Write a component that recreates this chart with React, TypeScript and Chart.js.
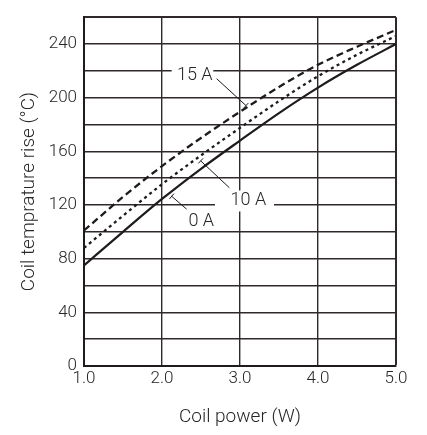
import React, { useEffect, useRef } from "react";
import { Chart, registerables } from "chart.js";

Chart.register(...registerables);

// ---- data ----
const powerW = [1.0, 1.5, 2.0, 2.5, 3.0, 3.5, 4.0, 4.5, 5.0];
const rise0A = [75, 100, 124.5, 147, 168, 188.5, 207.5, 224.5, 240];
const rise10A = [88, 112, 135.5, 157, 177.5, 197.5, 216, 232, 246];
const rise15A = [101, 126, 149, 170, 189.5, 208, 224.5, 238, 250.5];
const seriesNames = ["0 A", "10 A", "15 A"];
const xTitle = "Coil power (W)";
const yTitle = "Coil temprature rise (°C)";
const yLabelEvery = 40;

// call-out labels, in data units
const calloutText = ["15 A", "10 A", "0 A"];
const calloutAt = [
  [2.42, 216.7],
  [3.107, 123],
  [2.504, 107.9],
];
const calloutGap = [[2.124, 2.658], [2.679, 3.436], null];
const leaderFrom = [
  [2.7, 214.2],
  [2.863, 132.9],
  [2.316, 116.9],
];
const leaderTo = [
  [3.077, 194.1],
  [2.496, 152.9],
  [2.124, 126.5],
];

const INK = "#1f1b1c";
const GRID = "#2f292a";
const TEXT = "#262626";
const FAMILY = "Roboto, 'Liberation Sans', sans-serif";

const calloutPlugin = {
  id: "callouts",
  beforeDatasetsDraw(chart: any) {
    const { ctx, scales } = chart;
    const xs = scales.x;
    const ys = scales.y;
    ctx.save();
    ctx.fillStyle = "#ffffff";
    calloutGap.forEach((g, i) => {
      if (!g) return;
      const x0 = xs.getPixelForValue(g[0]);
      const x1 = xs.getPixelForValue(g[1]);
      const yc = ys.getPixelForValue(calloutAt[i][1]);
      ctx.fillRect(x0, yc - 10.5, x1 - x0, 21);
    });
    ctx.restore();
  },
  afterDatasetsDraw(chart: any) {
    const { ctx, scales } = chart;
    const xs = scales.x;
    const ys = scales.y;
    ctx.save();
    ctx.strokeStyle = INK;
    ctx.lineWidth = 1;
    leaderFrom.forEach((f, i) => {
      const t = leaderTo[i];
      const fx = xs.getPixelForValue(f[0]);
      const fy = ys.getPixelForValue(f[1]);
      const tx = xs.getPixelForValue(t[0]);
      const ty = ys.getPixelForValue(t[1]);
      ctx.beginPath();
      ctx.moveTo(fx, fy);
      ctx.lineTo(tx, ty);
      ctx.stroke();
      const dx = tx - fx;
      const dy = ty - fy;
      const len = Math.hypot(dx, dy) || 1;
      const px = -dy / len;
      const py = dx / len;
      ctx.beginPath();
      ctx.moveTo(tx - px * 3.5, ty - py * 3.5);
      ctx.lineTo(tx + px * 3.5, ty + py * 3.5);
      ctx.stroke();
    });
    ctx.fillStyle = TEXT;
    ctx.font = `300 18px ${FAMILY}`;
    ctx.textAlign = "center";
    ctx.textBaseline = "middle";
    calloutText.forEach((txt, i) => {
      const p = calloutAt[i];
      ctx.fillText(txt, xs.getPixelForValue(p[0]), ys.getPixelForValue(p[1]));
    });
    ctx.restore();
  },
};

export default function App() {
  const ref = useRef<HTMLCanvasElement | null>(null);

  useEffect(() => {
    const canvas = ref.current;
    if (!canvas) return;
    const styles = [
      { dash: [], width: 2.2 },
      { dash: [3, 3.5], width: 2.3 },
      { dash: [7, 4], width: 2.3 },
    ];
    const series = [rise0A, rise10A, rise15A];
    const chart = new Chart(canvas, {
      type: "line",
      data: {
        datasets: series.map((vals, i) => ({
          label: seriesNames[i],
          data: powerW.map((x, j) => ({ x, y: vals[j] })),
          borderColor: INK,
          borderWidth: styles[i].width,
          borderDash: styles[i].dash,
          pointRadius: 0,
          fill: false,
          cubicInterpolationMode: "monotone" as const,
        })),
      },
      options: {
        animation: false,
        responsive: false,
        devicePixelRatio: 1,
        layout: { padding: { top: 5, right: 31, left: 0, bottom: 0 } },
        plugins: {
          legend: { display: false },
          tooltip: { enabled: false },
        },
        scales: {
          x: {
            type: "linear",
            min: 1,
            max: 5,
            afterFit: (s: any) => {
              s.height = 69;
            },
            ticks: {
              stepSize: 1,
              autoSkip: false,
              maxRotation: 0,
              padding: 3,
              color: TEXT,
              font: { family: FAMILY, size: 17, weight: "300" as any },
              callback: (v: any) => Number(v).toFixed(1),
            },
            grid: {
              color: GRID,
              lineWidth: (c: any) => (c.tick && c.tick.value === 5 ? 2 : 1.4),
              drawTicks: false,
            },
            border: { color: INK, width: 2 },
            title: {
              display: true,
              text: xTitle,
              color: TEXT,
              font: { family: FAMILY, size: 19, weight: "300" as any },
              padding: { top: 0, bottom: 6.6 },
            },
          },
          y: {
            type: "linear",
            min: 0,
            max: 260,
            afterFit: (s: any) => {
              s.width = 84;
            },
            ticks: {
              stepSize: 20,
              autoSkip: false,
              padding: 7,
              color: TEXT,
              font: { family: FAMILY, size: 17, weight: "300" as any },
              callback: (v: any) => (Number(v) % yLabelEvery === 0 ? String(v) : ""),
            },
            grid: {
              color: GRID,
              lineWidth: (c: any) => (c.tick && c.tick.value === 260 ? 2 : 1.4),
              drawTicks: false,
            },
            border: { color: INK, width: 2 },
            title: {
              display: true,
              text: yTitle,
              color: TEXT,
              font: { family: FAMILY, size: 19, weight: "300" as any },
              padding: { top: 17.6, bottom: 0 },
            },
          },
        },
      },
      plugins: [calloutPlugin],
    });
    return () => chart.destroy();
  }, []);

  return (
    <div style={{ position: "fixed", left: 0, top: 0, width: 427, height: 435, background: "#fff" }}>
      <canvas ref={ref} width={427} height={435} style={{ display: "block", width: 427, height: 435 }} />
    </div>
  );
}
